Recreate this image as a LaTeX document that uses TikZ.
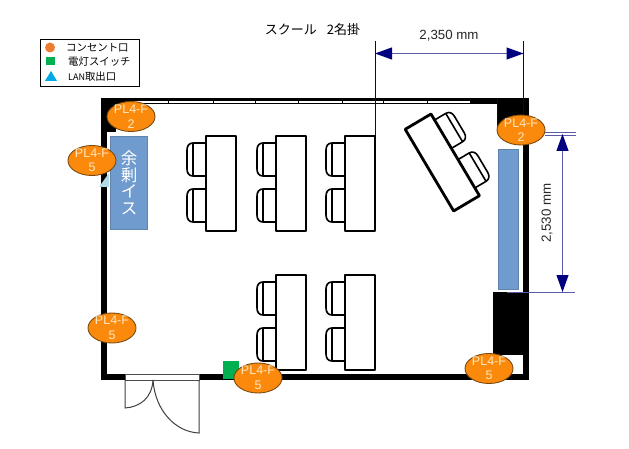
\documentclass[tikz,border=0pt]{standalone}
\usepackage{fontspec}
\setmainfont{Liberation Sans}
\newfontfamily\cjkfont{Noto Sans CJK JP}
\usetikzlibrary{arrows.meta}
\definecolor{navyline}{HTML}{000080}
\definecolor{dimline}{HTML}{5A5AA8}
\definecolor{orangefill}{HTML}{FB8A0C}
\definecolor{orangeedge}{HTML}{7A4A10}
\definecolor{paletext}{HTML}{FFE6C0}
\definecolor{bluebox}{HTML}{6F9BCE}
\definecolor{greenbox}{HTML}{00B050}
\definecolor{legorange}{HTML}{ED7D31}
\definecolor{legblue}{HTML}{00A9E6}
\tikzset{
  deskline/.style={draw=black,fill=white,line width=2.8pt,line join=round},
  chairline/.style={draw=black,fill=white,line width=1.6pt},
  wall/.style={fill=black,draw=none},
  pane/.style={fill=white,draw=black,line width=0.6pt},
  dimension/.style={draw=navyline,line width=0.8pt},
  dimarrow/.style={draw=dimline,line width=1pt,{Triangle[length=17pt,width=12pt,color=navyline]}-{Triangle[length=17pt,width=12pt,color=navyline]}},
  outletshape/.style={draw=orangeedge,fill=orangefill,line width=0.9pt},
  outlettext/.style={text=paletext,align=center,inner sep=0pt,font=\fontsize{12.5}{14.5}\selectfont},
  legendtext/.style={anchor=west,inner sep=0pt,font=\cjkfont\fontsize{10.4}{12}\selectfont},
  doorline/.style={draw=black!75,line width=1pt},
  dimtext/.style={inner sep=0pt,text=black!85,font=\fontsize{13.3}{15}\selectfont},
}
\newcommand{\chairat}[1]{%
  \draw[chairline] (0,#1) -- (-13,#1) .. controls (-17,#1) and (-19,#1+3) .. (-19,#1+7)
     -- (-19,#1+26) .. controls (-19,#1+30) and (-17,#1+33) .. (-13,#1+33) -- (0,#1+33);
  \draw[chairline] (-13,#1) -- (-13,#1+33);
}
\newcommand{\deskset}{%
  \chairat{7}\chairat{53}
  \draw[deskline] (0,0) -- (30,0) -- (30,95) -- (0,95) -- cycle;
}
\newcommand{\outlet}[4]{%
  \draw[outletshape] (#2,#3) ellipse (24pt and 15pt);
  \node[outlettext] (#1) at (#2,#3) {PL4-F\\#4};
}
\begin{document}
\begin{tikzpicture}[x=1pt,y=-1pt]
\useasboundingbox (0,0) rectangle (629,449);
\fill[white] (0,0) rectangle (629,449);
% legend
\draw[black,line width=1pt,fill=white] (40.5,39.5) rectangle (139.5,87);
\fill[legorange] (50,47.5) circle (5pt);
\fill[greenbox] (46,57) rectangle (55,65);
\fill[legblue] (45,81) -- (51,71) -- (57,81) -- cycle;
\node[legendtext] (leg1) at (66,47.5) {コンセント口};
\node[legendtext] (leg2) at (68,62) {電灯スイッチ};
\node[legendtext] (leg3) at (68,77) {\fontsize{9}{12}\selectfont LAN\fontsize{10.4}{12}\selectfont 取出口};
% title
\node[inner sep=0pt,font=\cjkfont\fontsize{13}{15}\selectfont] (title) at (312.5,30) {スクール\hspace{10pt}2名掛};
% walls
\fill[wall] (101,98) rectangle (529,104.5);
\fill[wall] (101,98) rectangle (107,380);
\fill[wall] (523,98) rectangle (529,380);
\fill[wall] (101,374) rectangle (529,380);
\fill[wall] (101,98) rectangle (116,132);
\fill[wall] (497,98) rectangle (529,130);
\fill[wall] (493,292) rectangle (529,355);
% windows
\foreach \a/\b in {130/168,168/213,213/255,255/298,298/342,342/383,383/427,427/470}{
  \draw[pane] (\a,100.3) rectangle (\b,103);
}
% door
\draw[fill=white,draw=black!70,line width=0.8pt] (125,374) rectangle (199,380);
\draw[doorline] (125,380) -- (125,408) .. controls (140,407) and (152,398) .. (153,380);
\draw[doorline] (199,380) -- (199,433) .. controls (175,432) and (155,410) .. (153,380);
% desks
\foreach \dx in {206,276,345}{
  \begin{scope}[shift={(\dx,136)}]\deskset\end{scope}
}
\foreach \dx in {276,345}{
  \begin{scope}[shift={(\dx,275)}]\deskset\end{scope}
}
\begin{scope}[shift={(431,114)},x={(-0.86pt,-0.51pt)},y={(0.51pt,-0.86pt)}]\deskset\end{scope}
% blue boxes and triangle
\draw[fill=black!25!legblue!30,draw=none] (99,187) -- (109,173) -- (109,187) -- cycle;
\draw[fill=bluebox,draw=bluebox!85!black,line width=0.5pt] (110,136.5) rectangle (147,229);
\draw[fill=bluebox,draw=bluebox!85!black,line width=0.5pt] (498,149) rectangle (518,289);
\node[text=white,align=center,inner sep=0pt,font=\cjkfont\fontsize{16.5}{16.5}\selectfont] (spare) at (129,183) {余\\剰\\イ\\ス};
% green switch
\fill[greenbox] (223,361) rectangle (239,379);
% dimensions
\coordinate (h1t) at (375,41); \coordinate (h1b) at (375,136);
\coordinate (h2t) at (523.5,41); \coordinate (h2b) at (523.5,152);
\coordinate (h1m) at (375,53.5); \coordinate (h2m) at (523.5,53.5);
\draw[dimension] (h1t) -- (h1b);
\draw[dimension] (h2t) -- (h2b);
\draw[dimarrow] (h1m) -- (h2m);
\node[dimtext] (dimh) at (449,36) {2,350 mm};
\draw[dimension] (497,98) -- (497,126);
\coordinate (v1l) at (545,132.8); \coordinate (v1r) at (576,132.8);
\coordinate (v1lb) at (545,135); \coordinate (v1rb) at (576,135);
\coordinate (v2l) at (507,292); \coordinate (v2r) at (575,292);
\coordinate (v1m) at (562.5,134); \coordinate (v2m) at (562.5,292);
\draw[dimline,line width=0.9pt] (v1l) -- (v1r);
\draw[dimline,line width=0.9pt] (v1lb) -- (v1rb);
\draw[dimline,line width=0.9pt] (v2l) -- (v2r);
\draw[dimarrow] (v1m) -- (v2m);
\node[dimtext,rotate=90] (dimv) at (547,213) {2,530 mm};
% outlets
\outlet{o1}{131}{116.5}{2}
\outlet{o2}{92}{160.5}{5}
\outlet{o3}{521}{130}{2}
\outlet{o4}{112}{328}{5}
\outlet{o5}{258}{378}{5}
\outlet{o6}{489}{368.5}{5}
\end{tikzpicture}
\end{document}
